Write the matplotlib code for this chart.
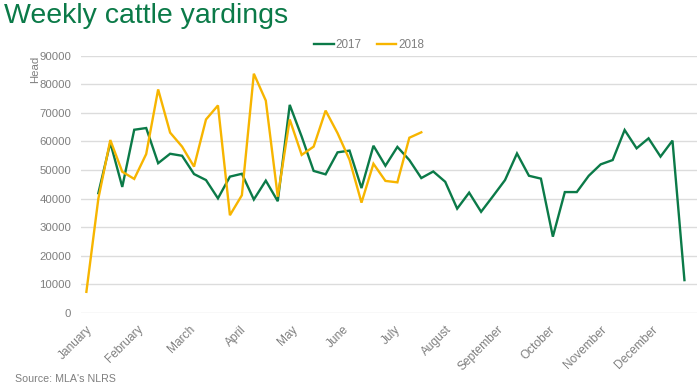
import matplotlib
matplotlib.use("Agg")
import matplotlib.pyplot as plt

plt.rcParams['font.family'] = ['Liberation Sans', 'DejaVu Sans']

# ---- data ----
weeks_2017 = list(range(2, 52))
values_2017 = [41900, 59600, 44100, 64100, 64700, 52400, 55700, 55000, 48600, 46500,
               40100, 47700, 48700, 39700, 46300, 39100, 72800, 61700, 49700, 48500,
               56200, 56800, 43700, 58500, 51500, 58100, 53500, 47200, 49500, 45900,
               36500, 42100, 35400, 40900, 46500, 55800, 48000, 47000, 26700, 42300,
               42300, 48000, 52000, 53500, 64000, 57600, 61100, 54700, 60300, 11500]
weeks_2018 = list(range(1, 30))
values_2018 = [7400, 40000, 60500, 49400, 46900, 55600, 78200, 63100, 58200, 51200,
               67700, 72600, 34200, 41200, 83700, 74300, 40700, 67700, 55300, 58200,
               70800, 62900, 53600, 38600, 52200, 46200, 45700, 61300, 63200]
months = ["January", "February", "March", "April", "May", "June", "July",
          "August", "September", "October", "November", "December"]
y_ticks = [0, 10000, 20000, 30000, 40000, 50000, 60000, 70000, 80000, 90000]

GREEN = "#0B7A48"
YELLOW = "#F7B500"
GREY = "#7F7F7F"
GRID = "#DCDCDC"

W, H = 700, 387
fig = plt.figure(figsize=(W / 100, H / 100), dpi=100)
ax = fig.add_axes([81 / W, 1 - 313 / H, (697 - 81) / W, (313 - 55.7) / H])

ax.plot(weeks_2017, values_2017, color=GREEN, lw=1.7, label="2017", solid_joinstyle='miter')
ax.plot(weeks_2018, values_2018, color=YELLOW, lw=1.7, label="2018", solid_joinstyle='miter')

ax.set_ylim(0, 90000)
ax.set_xlim(0.55, 52.05)
ax.set_yticks(y_ticks)
ax.set_yticklabels([str(v) for v in y_ticks])
ax.yaxis.grid(True, color=GRID, lw=1)
ax.set_axisbelow(True)
for s in ax.spines.values():
    s.set_visible(False)
ax.tick_params(axis='y', length=0, pad=7, labelsize=8.2, labelcolor=GREY)

month_pos = [0.95 + 4.3 * i for i in range(len(months))]
ax.set_xticks(month_pos)
ax.set_xticklabels(months, rotation=45, ha='right', rotation_mode='anchor')
ax.tick_params(axis='x', length=0, pad=7.5, labelsize=8.6, labelcolor=GREY)

fig.text(35 / W, 1 - 69 / H, "Head", rotation=90, ha='center', va='center',
         fontsize=8.2, color=GREY)
fig.text(4 / W, 1 - 16 / H, "Weekly cattle yardings", ha='left', va='center',
         fontsize=20.5, color=GREEN)
fig.text(15 / W, 1 - 379 / H, "Source: MLA's NLRS", ha='left', va='center',
         fontsize=7.7, color=GREY)

fig.legend(loc='center', bbox_to_anchor=(369 / W, 1 - 45 / H), ncol=2, frameon=False,
           fontsize=8.4, labelcolor=GREY, handlelength=1.7, handletextpad=0.15,
           columnspacing=1.3)

fig.savefig("out.png", dpi=100)
